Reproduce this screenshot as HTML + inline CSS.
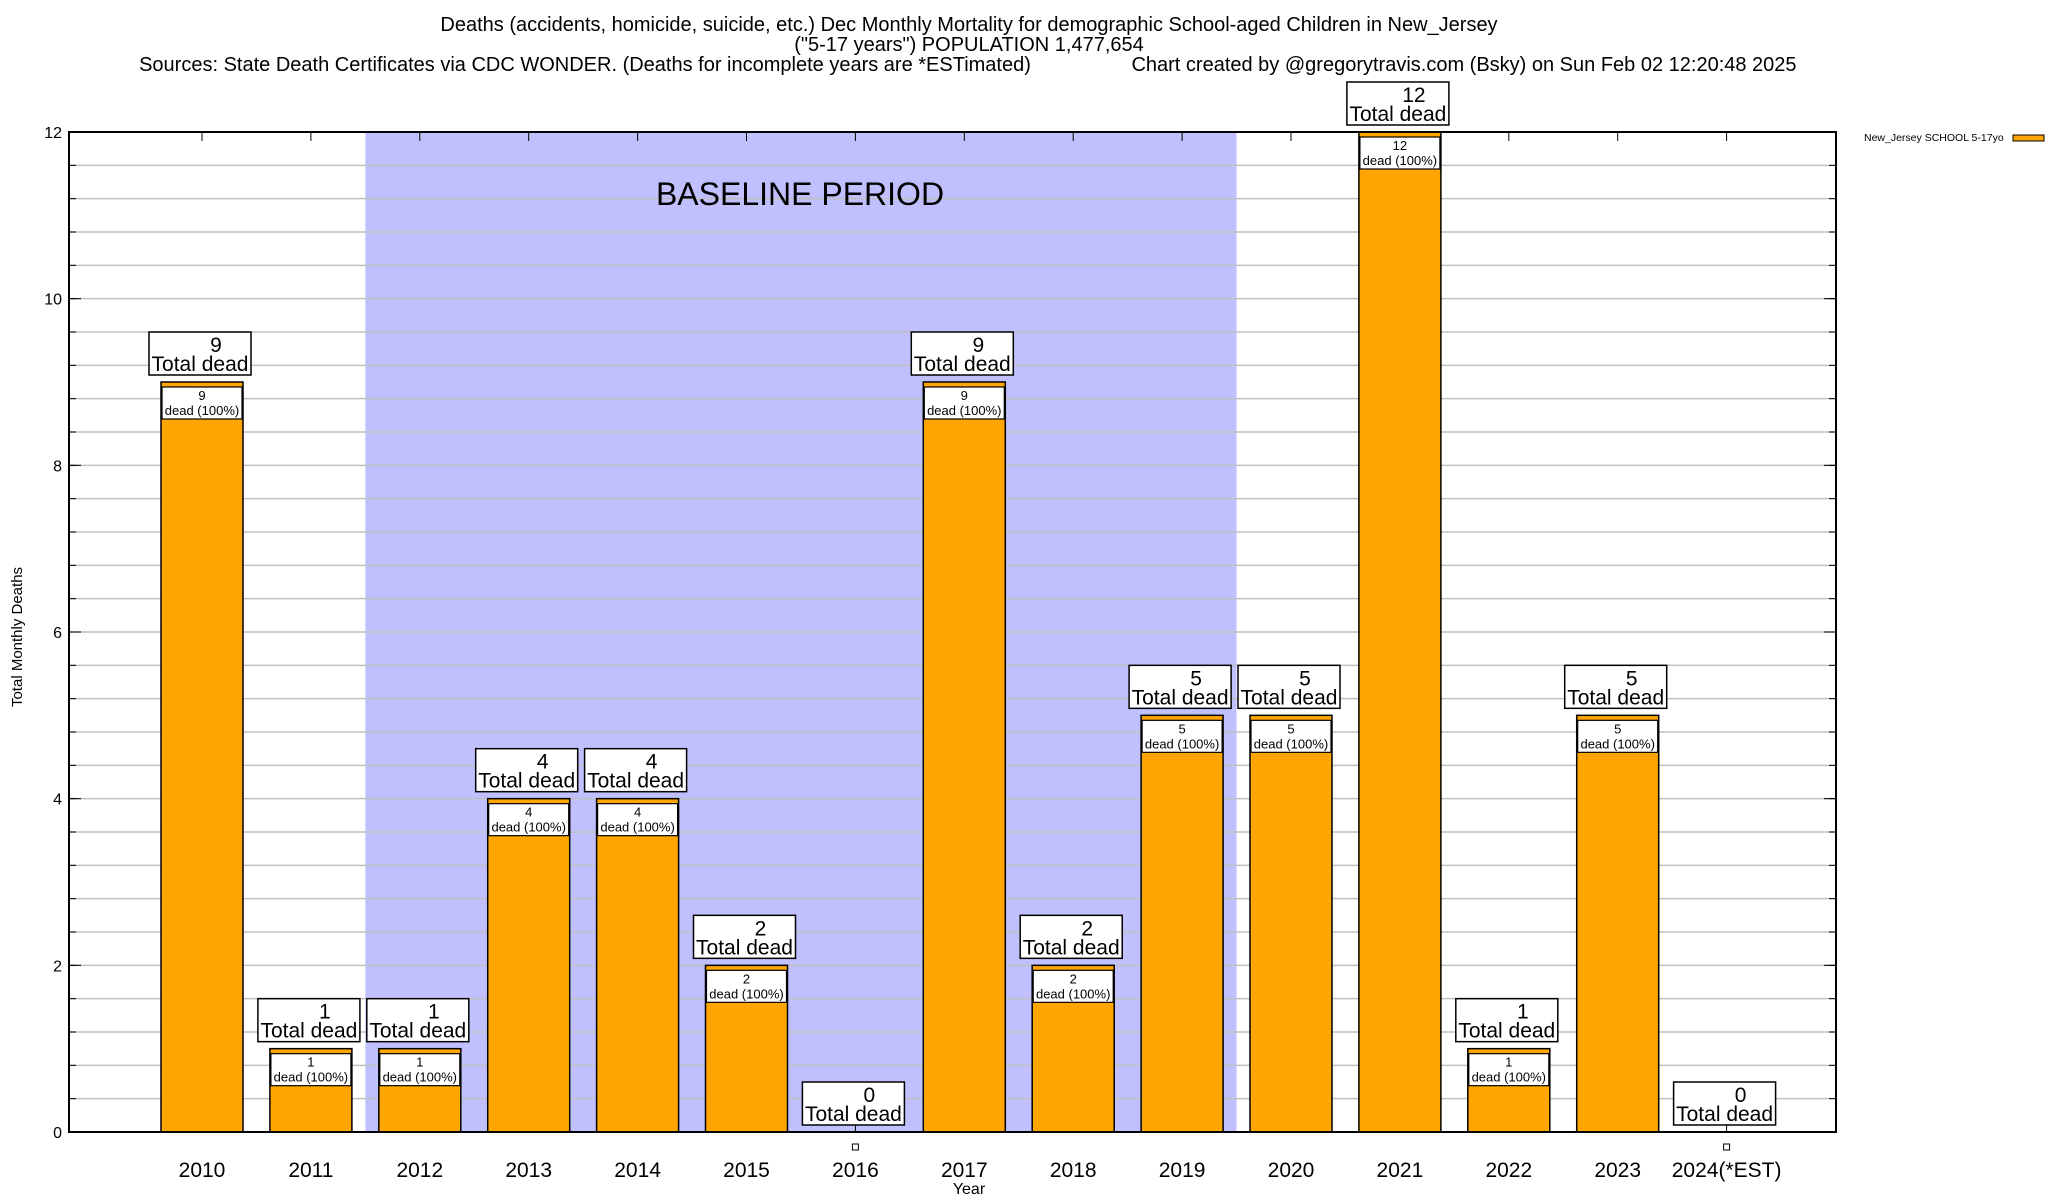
<!DOCTYPE html>
<html><head><meta charset="utf-8"><style>
html,body{margin:0;padding:0;background:#fff;}
svg{display:block;font-family:"Liberation Sans",sans-serif;}
</style></head><body>
<svg id="chart" width="2048" height="1200" viewBox="0 0 2048 1200" xmlns="http://www.w3.org/2000/svg">
<g font-size="20" text-anchor="middle">
<text x="969" y="31">Deaths (accidents, homicide, suicide, etc.) Dec Monthly Mortality for demographic School-aged Children in New_Jersey</text>
<text x="969" y="51">("5-17 years") POPULATION 1,477,654</text>
<text x="585" y="71">Sources: State Death Certificates via CDC WONDER. (Deaths for incomplete years are *ESTimated)</text>
<text x="1464" y="71">Chart created by @gregorytravis.com (Bsky) on Sun Feb 02 12:20:48 2025</text>
</g>
<g id="plot"></g>
<text x="22" y="637" font-size="15" text-anchor="middle" transform="rotate(-90 22 637)">Total Monthly Deaths</text>
<text x="969" y="1194" font-size="16" text-anchor="middle">Year</text>
<g>
<text x="1864" y="141" font-size="10.5">New_Jersey SCHOOL 5-17yo</text>
<rect x="2013" y="135" width="31" height="6" fill="#ffa500" stroke="#000" stroke-width="1"/>
</g>
</svg>
<script>
const categories = ["2010","2011","2012","2013","2014","2015","2016","2017","2018","2019","2020","2021","2022","2023","2024(*EST)"];
const deaths = [9,1,1,4,4,2,0,9,2,5,5,12,1,5,0];
const yTicks = [0,2,4,6,8,10,12];
const baselineStart = 1.5, baselineEnd = 9.5;

const L=69,R=1836,T=132,B=1132;
const x0=202, step=108.9;
const xs = i => x0 + i*step;
const ys = v => B - (v/12)*(B-T);
const NS="http://www.w3.org/2000/svg";
const g=document.getElementById('plot');
function mk(tag,attrs,parent){const e=document.createElementNS(NS,tag);for(const k in attrs)e.setAttribute(k,attrs[k]);(parent||g).appendChild(e);return e;}

const bg=mk('rect',{x:xs(baselineStart),y:T,width:xs(baselineEnd)-xs(baselineStart),height:B-T,fill:'#c0c0ff'});


for(let v=0.4;v<12-0.01;v+=0.4){
  const gl=mk('line',{x1:L,x2:R,y1:ys(v),y2:ys(v),stroke:'#c0c0c0','stroke-width':1.5});
  
  
  mk('line',{x1:L,x2:L+7,y1:ys(v),y2:ys(v),stroke:'#000'});
  mk('line',{x1:R-7,x2:R,y1:ys(v),y2:ys(v),stroke:'#000'});
}
const bt=mk('text',{x:800,y:205,'font-size':32,'text-anchor':'middle'});
bt.textContent='BASELINE PERIOD';



yTicks.forEach(v=>{
  const t=mk('text',{x:62,y:ys(v)+6,'font-size':16,'text-anchor':'end'});
  t.textContent=v;
  
  
  mk('line',{x1:L,x2:L+12,y1:ys(v),y2:ys(v),stroke:'#000'});
  mk('line',{x1:R-12,x2:R,y1:ys(v),y2:ys(v),stroke:'#000'});
});

categories.forEach((c,i)=>{
  const cx=xs(i), v=deaths[i];
  mk('line',{x1:cx,x2:cx,y1:T,y2:T+9,stroke:'#000'});
  const xl=mk('text',{x:cx,y:1177,'font-size':21,'text-anchor':'middle'});
  xl.textContent=c;
  
  
  const top=ys(v);
  if(v>0){
    const bar=mk('rect',{x:cx-41,y:top,width:82,height:B-top,fill:'#ffa500',stroke:'#000','stroke-width':1.5});
    
    
    const ib=mk('rect',{x:cx-40,y:top+5,width:80,height:32,fill:'#fff',stroke:'#000','stroke-width':1.2});
    
    
    const t1=mk('text',{x:cx,y:top+18,'font-size':13,'text-anchor':'middle'});t1.textContent=v;
    const t2=mk('text',{x:cx,y:top+33,'font-size':13,'text-anchor':'middle'});t2.textContent='dead (100%)';
  } else {
    mk('line',{x1:cx,x2:cx,y1:B-7,y2:B,stroke:'#000'});
    const m=mk('rect',{x:cx-3,y:B+12,width:6,height:6,fill:'#fff',stroke:'#000'});
    
    
  }
  const by=top-7-43;
  const box=mk('rect',{x:cx-53,y:by,width:102,height:43,fill:'#fff',stroke:'#000','stroke-width':1.5});
  
  
  const n=mk('text',{x:cx+14,y:by+20,'font-size':21,'text-anchor':'middle'});n.textContent=v;
  const td=mk('text',{x:cx-2,y:by+39,'font-size':21,'text-anchor':'middle'});td.textContent='Total dead';
});
const frame=mk('rect',{x:L,y:T,width:R-L,height:B-T,fill:'none',stroke:'#000','stroke-width':2});


</script>
</body></html>
